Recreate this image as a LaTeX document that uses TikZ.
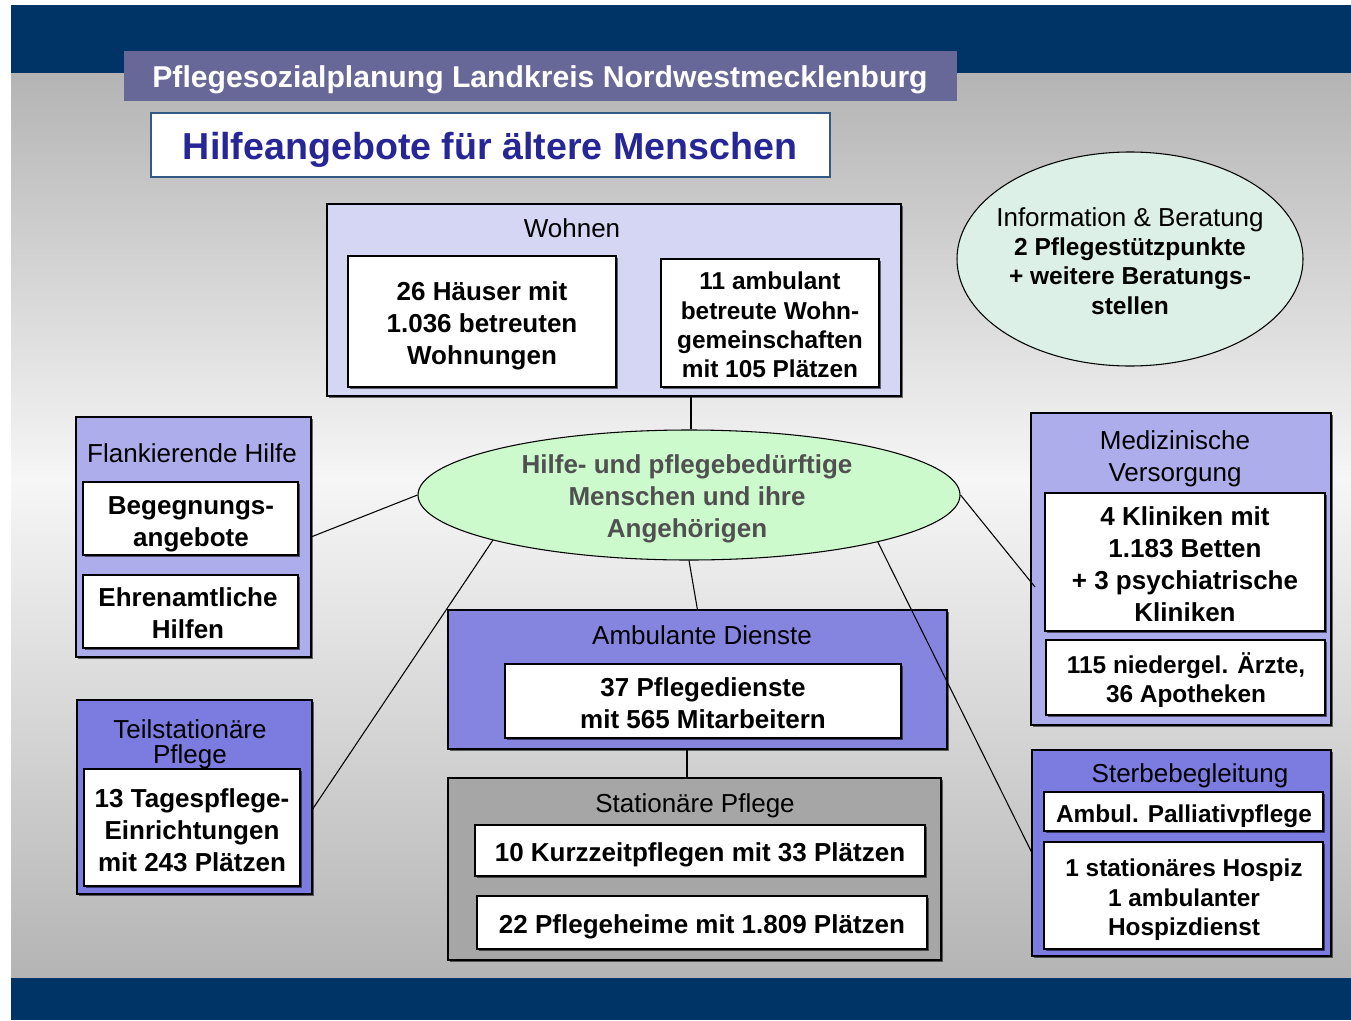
\documentclass[tikz,border=0pt]{standalone}
\usepackage{fontspec}
\setmainfont{Liberation Sans}
\usetikzlibrary{shapes.geometric,fit,shadows}
\definecolor{navy}{RGB}{0,52,102}
\definecolor{hdr}{RGB}{104,104,152}
\definecolor{ttlblue}{RGB}{38,38,150}
\definecolor{ttlframe}{RGB}{50,90,130}
\definecolor{bgdark}{RGB}{180,180,180}
\definecolor{bglight}{RGB}{246,246,246}
\definecolor{lav}{RGB}{213,213,244}
\definecolor{midlav}{RGB}{173,173,235}
\definecolor{violeta}{RGB}{123,123,224}
\definecolor{violetb}{RGB}{133,133,224}
\definecolor{statgray}{RGB}{166,166,166}
\definecolor{mint}{RGB}{220,240,232}
\definecolor{lgreen}{RGB}{204,250,204}
\definecolor{ctext}{RGB}{80,80,80}
\begin{document}
\begin{tikzpicture}[x=0.75pt,y=-0.75pt,
  shd/.style={drop shadow={shadow xshift=1.2pt,shadow yshift=-1.2pt,fill=black,opacity=0.55}},
  grpbox/.style={draw=black,line width=0.9pt,inner sep=0pt,outer sep=0pt,shd},
  inbox/.style={draw=black,line width=0.9pt,fill=white,inner sep=0pt,outer sep=0pt,shd},
  bt/.style={align=center,inner sep=0pt,font=\bfseries\fontsize{19.5}{24}\selectfont},
  btt/.style={align=center,inner sep=0pt,font=\bfseries\fontsize{18.3}{22}\selectfont},
  grptitle/.style={align=center,font=\fontsize{19.5}{24}\selectfont,inner sep=0pt},
  conn/.style={draw=black,line width=0.8pt}]

\useasboundingbox (0,0) rectangle (1351,1020);
% background
\fill[white] (0,0) rectangle (1351,1020);
\shade[top color=bgdark,bottom color=bglight] (11,73) rectangle (1351,480);
\shade[top color=bglight,bottom color=bgdark] (11,480) rectangle (1351,978);
\fill[navy] (11,5) rectangle (1351,73);
\fill[navy] (11,978) rectangle (1351,1020);

% header and title
\node[fill=hdr,inner sep=0pt,fit={(124,51) (957,101)}] (hdr) {};
\node[text=white,font=\bfseries\fontsize{22.6}{27}\selectfont,inner sep=0pt] (hdrtext) at (540,80) {Pflegesozialplanung Landkreis Nordwestmecklenburg};
\node[fill=white,draw=ttlframe,line width=0.9pt,inner sep=0pt,fit={(151,113) (830,177)}] (ttl) {};
\node[text=ttlblue,font=\bfseries\fontsize{28.2}{32}\selectfont,inner sep=0pt] (ttltext) at (490,150) {Hilfeangebote für ältere Menschen};

% Information & Beratung
\node[ellipse,draw=black,line width=0.8pt,fill=mint,minimum width=259.5pt,minimum height=160.5pt,inner sep=0pt] (info) at (1130,259) {};
\node[align=center,inner sep=0pt,font=\fontsize{19.5}{22}\selectfont] (infotext) at (1130,261)
  {Information \& Beratung\\ {\bfseries\fontsize{18.4}{22}\selectfont 2 Pflegestützpunkte}\\ {\bfseries\fontsize{18.4}{22}\selectfont + weitere Beratungs-}\\ {\bfseries\fontsize{18.4}{22}\selectfont stellen}};

% Wohnen
\node[grpbox,fill=lav,fit={(327,204) (901,396)}] (wohnen) {};
\node[grptitle] (wohnentitle) at (572,228) {Wohnen};
\node[inbox,fit={(348,256) (616,387)}] (haeuser) {};
\node[bt] (haeusertext) at (482,326) {26 Häuser mit\\1.036 betreuten\\Wohnungen};
\node[inbox,fit={(661,259) (879,387)}] (wg) {};
\node[btt] (wgtext) at (770,325) {11 ambulant\\betreute Wohn-\\gemeinschaften\\mit 105 Plätzen};

% central ellipse
\node[ellipse,draw=black,line width=0.8pt,fill=lgreen,minimum width=406.5pt,minimum height=97.5pt,inner sep=0pt] (cen) at (689,495) {};
\node[align=center,inner sep=0pt,text=ctext,font=\bfseries\fontsize{19.5}{24}\selectfont] (centext) at (687,499)
  {Hilfe- und pflegebedürftige\\Menschen und ihre\\Angehörigen};

% Flankierende Hilfe
\node[grpbox,fill=midlav,fit={(76,417) (311,657)}] (flank) {};
\node[grptitle] (flanktitle) at (192,453) {Flankierende Hilfe};
\node[inbox,fit={(83,482) (298,555)}] (begeg) {};
\node[bt] (begegtext) at (191,524) {Begegnungs-\\angebote};
\node[inbox,fit={(83,575) (298,648)}] (ehren) {};
\node[bt] (ehrentext) at (188,613) {Ehrenamtliche\\Hilfen};

% Medizinische Versorgung
\node[grpbox,fill=midlav,fit={(1031,413) (1331,725)}] (med) {};
\node[grptitle] (medtitle) at (1175,459) {Medizinische\\Versorgung};
\node[inbox,fit={(1045,493) (1325,631)}] (klin) {};
\node[bt] (klintext) at (1185,564) {4 Kliniken mit\\1.183 Betten\\+ 3 psychiatrische\\Kliniken};
\node[inbox,fit={(1046,640) (1325,715)}] (aerzte) {};
\node[btt] (aerztetext) at (1186,680) {115 niedergel. Ärzte,\\36 Apotheken};

% Teilstationaere Pflege
\node[grpbox,fill=violeta,fit={(77,700) (312,894)}] (teil) {};
\node[grptitle,font=\fontsize{19.5}{19}\selectfont] (teiltitle) at (190,744) {Teilstationäre\\Pflege};
\node[inbox,fit={(84,769) (300,886)}] (tages) {};
\node[bt] (tagestext) at (192,830) {13 Tagespflege-\\Einrichtungen\\mit 243 Plätzen};

% Ambulante Dienste
\node[grpbox,fill=violetb,fit={(448,610) (947,749)}] (amb) {};
\node[grptitle] (ambtitle) at (702,635) {Ambulante Dienste};
\node[inbox,fit={(505,664) (901,738)}] (pfleged) {};
\node[bt] (pflegedtext) at (703,703) {37 Pflegedienste\\mit 565 Mitarbeitern};

% Stationaere Pflege
\node[grpbox,fill=statgray,fit={(448,778) (941,960)}] (stat) {};
\node[grptitle] (stattitle) at (695,806) {Stationäre Pflege};
\node[inbox,fit={(475,825) (925,876)}] (kurz) {};
\node[bt] (kurztext) at (700,855) {10 Kurzzeitpflegen mit 33 Plätzen};
\node[inbox,fit={(477,896) (927,949)}] (heime) {};
\node[bt] (heimetext) at (702,927) {22 Pflegeheime mit 1.809 Plätzen};

% Sterbebegleitung
\node[grpbox,fill=violeta,fit={(1032,750) (1331,956)}] (sterbe) {};
\node[grptitle] (sterbetitle) at (1190,776) {Sterbebegleitung};
\node[inbox,fit={(1044,792) (1323,831)}] (pall) {};
\node[btt] (palltext) at (1184,816) {Ambul. Palliativpflege};
\node[inbox,fit={(1044,842) (1323,949)}] (hospiz) {};
\node[btt] (hospiztext) at (1184,900) {1 stationäres Hospiz\\1 ambulanter\\Hospizdienst};

% connectors
\draw[conn] ([xshift=1.5pt]cen.north) -- ([xshift=1.5pt]cen.north |- wohnen.south);
\draw[conn] (flank.east) -- (cen.west);
\draw[conn] ([yshift=-9.75pt]teil.east) -- (cen.193.5);
\draw[conn] (cen.south) -- (amb.north);
\draw[conn] (cen.346.5) -- (sterbe.west);
\draw[conn] (cen.east) -- ([yshift=-13.5pt,xshift=3pt]med.west);
\draw[conn] ([xshift=-1.5pt]cen.south |- amb.south) -- ([xshift=-1.5pt]cen.south |- stat.north);
\end{tikzpicture}
\end{document}
